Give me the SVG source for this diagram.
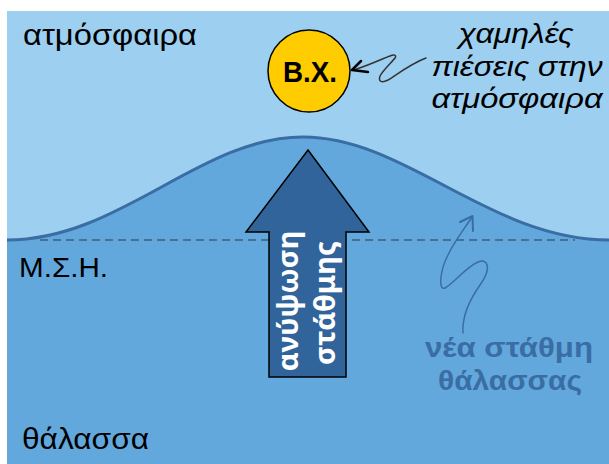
<svg xmlns="http://www.w3.org/2000/svg" width="609" height="464" viewBox="0 0 609 464">
<defs>
<style>
.lbl{font-family:"Liberation Sans",Arial,sans-serif;fill:#000}
.it{font-style:italic;text-anchor:middle}
.blue{font-weight:bold;fill:#3A6DA3;text-anchor:middle}
.arrtxt{font-family:"Noto Sans","Open Sans",sans-serif;font-weight:bold;fill:#fff;text-anchor:middle}
</style>
</defs>
<rect x="0" y="0" width="609" height="464" fill="#fff"/>
<g id="sky"><rect x="7" y="11" width="602" height="453" fill="#9DCFF0"/></g>
<g id="sea">
<path d="M7,240 C120,240 200,137 303,137 C406,137 490,240 609,240 L609,464 L7,464 Z" fill="#62A8DC"/>
<line x1="40" y1="240" x2="575" y2="240" stroke="#3F5E7E" stroke-width="1.5" stroke-dasharray="8,5"/>
<path d="M7,240 C120,240 200,137 303,137 C406,137 490,240 609,240" fill="none" stroke="#3A6DA3" stroke-width="3"/>
</g>
<g id="uplift">
<polygon points="308,150 369,232 346,232 346,377 269,377 269,232 246,232" fill="#31649A" stroke="#000" stroke-width="1.5"/>
<text class="arrtxt" font-size="29" transform="translate(298,301) rotate(-90)">ανύψωση</text>
<text class="arrtxt" font-size="29" transform="translate(335,303) rotate(-90)">στάθμης</text>
</g>
<g id="low-pressure">
<circle cx="309" cy="71" r="41" fill="#FFCC00" stroke="#000" stroke-width="1.5"/>
<text class="lbl" x="310" y="82" font-size="30" font-weight="bold" text-anchor="middle" textLength="54" lengthAdjust="spacingAndGlyphs">Β.Χ.</text>
</g>
<g id="labels">
<text class="lbl" x="23" y="45" font-size="29" textLength="174" lengthAdjust="spacingAndGlyphs">ατμόσφαιρα</text>
<text class="lbl" x="19" y="277" font-size="28" textLength="89" lengthAdjust="spacingAndGlyphs">Μ.Σ.Η.</text>
<text class="lbl" x="22" y="449" font-size="29" textLength="127" lengthAdjust="spacingAndGlyphs">θάλασσα</text>
<text class="lbl it" x="516" y="43" font-size="28" textLength="115" lengthAdjust="spacingAndGlyphs">χαμηλές</text>
<text class="lbl it" x="517" y="76" font-size="28" textLength="171" lengthAdjust="spacingAndGlyphs">πιέσεις στην</text>
<text class="lbl it" x="517" y="108" font-size="28" textLength="171" lengthAdjust="spacingAndGlyphs">ατμόσφαιρα</text>
<text class="lbl blue" x="509" y="357" font-size="28" textLength="168" lengthAdjust="spacingAndGlyphs">νέα στάθμη</text>
<text class="lbl blue" x="510" y="390" font-size="28" textLength="144" lengthAdjust="spacingAndGlyphs">θάλασσας</text>
</g>
<g id="connectors" fill="none" stroke-linecap="round" stroke-linejoin="round">
<path d="M426,58 C410,64 395,76 388,80 C382,83 378,82 380,76 C383,70 392,62 395,58 C397,55 394,54 390,56 C382,59 372,64 354,70" stroke="#333" stroke-width="1.5"/>
<path d="M361,61 L352,70 L368,72" stroke="#000" stroke-width="2.5"/>
<path d="M463,333 C462,318 468,302 480,285 C492,268 488,258 478,262 C466,267 452,285 445,288 C438,291 440,270 448,255 C455,240 465,228 472,217" stroke="#3A6DA3" stroke-width="1.5"/>
<path d="M460,222 L472.5,216 L473,231" stroke="#3A6DA3" stroke-width="2"/>
</g>
</svg>
